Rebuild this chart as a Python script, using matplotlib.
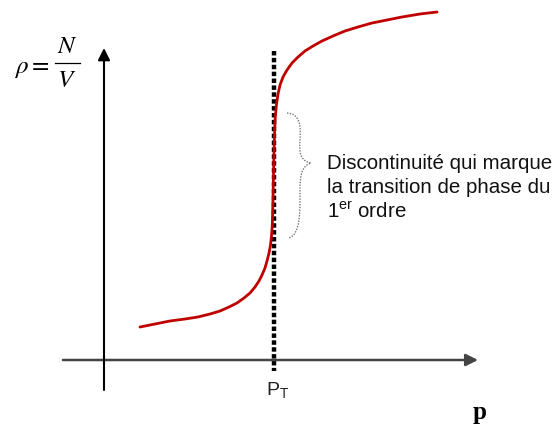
import matplotlib
matplotlib.use('Agg')
import matplotlib.pyplot as plt
from matplotlib.path import Path
from matplotlib.patches import PathPatch

plt.rcParams['mathtext.fontset'] = 'custom'
plt.rcParams['mathtext.rm'] = 'Liberation Sans'
plt.rcParams['mathtext.it'] = 'Liberation Sans:italic'

# courbe rho(p) (coordonnees en pixels)
p_vals = [140, 155, 170, 185, 198, 210, 220, 229, 237, 244, 250, 255,
          259, 262, 265, 267, 269, 270.5, 271.5, 272.3, 273, 273.6, 274.3,
          275.2, 276.5, 278, 280, 283, 287, 292, 298, 305, 313, 322, 333,
          345, 358, 372, 387, 402, 420, 437]
rho_vals = [327, 324, 321, 319, 317, 314, 311, 307, 303, 298, 293, 287,
            281, 275, 268, 261, 253, 245, 236, 225, 200, 170, 140,
            118, 104, 94, 85, 77, 70, 63, 57, 51, 46, 41, 36,
            31, 27, 23, 20, 17, 14, 12]

p_T = 274
label_text = "Discontinuité qui marque\nla transition de phase du\n1$^{\\mathrm{er}}$ ordre"

fig = plt.figure(figsize=(5.6, 4.3), dpi=100)
ax = fig.add_axes([0, 0, 1, 1])
ax.set_xlim(0, 560)
ax.set_ylim(430, 0)
ax.axis('off')

# axes avec fleches
ax.annotate('', xy=(478, 360), xytext=(63, 360),
            arrowprops=dict(arrowstyle='-|>', lw=1.8, color='#444444',
                            mutation_scale=18, shrinkA=0, shrinkB=0))
ax.annotate('', xy=(104, 48), xytext=(104, 390),
            arrowprops=dict(arrowstyle='-|>', lw=1.5, color='black',
                            mutation_scale=18, shrinkA=0, shrinkB=0))

# ligne pointillee a p_T
ax.plot([p_T, p_T], [51, 371], color='black', lw=3.2,
        dashes=(1, 0.55), solid_capstyle='butt', dash_capstyle='butt')

# courbe rouge
ax.plot(p_vals, rho_vals, color='#C00000', lw=2.0, solid_capstyle='round',
        solid_joinstyle='round')

# accolade en pointilles
verts = [(287, 113), (300, 114), (301, 125), (300, 140),
         (299, 152), (300, 161), (311, 163),
         (302, 166), (300, 174), (300, 190),
         (300, 210), (301, 236), (288, 238)]
codes = [Path.MOVETO] + [Path.CURVE4] * 12
ax.add_patch(PathPatch(Path(verts, codes), fill=False, edgecolor='#777777',
                       lw=1.0, linestyle=(0, (1, 1))))

ax.text(327, 188, label_text, fontsize=14.8, family='Liberation Sans',
        va='center', ha='left', linespacing=1.3, color='#111111')

# etiquettes
ax.text(p_T + 4, 390, r'P$_\mathrm{T}$', fontsize=14, family='Liberation Sans',
        ha='center', va='center', color='#222222')
ax.text(480, 412, 'p', fontsize=18, family='Liberation Serif', weight='bold',
        ha='center', va='center')

# rho = N / V
ax.text(14, 68, r'$\rho =$', fontsize=18, ha='left', va='center',
        math_fontfamily='stix')
ax.text(67, 46, r'$N$', fontsize=18, ha='center', va='center',
        math_fontfamily='stix')
ax.plot([55, 80], [63, 63], color='black', lw=0.9)
ax.text(67, 80, r'$V$', fontsize=18, ha='center', va='center',
        math_fontfamily='stix')

fig.savefig('out.png', dpi=100)
